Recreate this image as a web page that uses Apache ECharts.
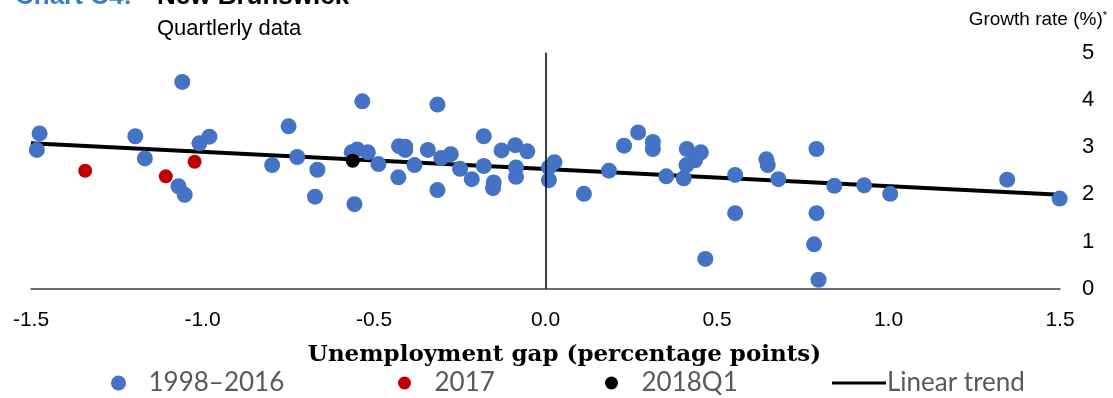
<!DOCTYPE html>
<html><head><meta charset="utf-8">
<script src="https://cdn.jsdelivr.net/npm/echarts@6/dist/echarts.min.js"></script>
<style>html,body{margin:0;padding:0;background:#fff}#c{width:1113px;height:398px}</style>
</head><body><div id="c"></div>
<script>
// Unemployment gap (x) and growth rate (y)
const gap9816 = [-1.475,-1.483,-1.196,-1.168,-1.059,-1.070,-1.052,-1.009,-0.980,-0.797,
  -0.749,-0.724,-0.665,-0.672,-0.534,-0.557,-0.565,-0.549,-0.518,-0.487,
  -0.429,-0.427,-0.409,-0.409,-0.382,-0.343,-0.315,-0.315,-0.304,-0.276,
  -0.249,-0.215,-0.180,-0.180,-0.151,-0.153,-0.128,-0.088,-0.086,-0.086,
  -0.053,0.010,0.010,0.026,0.112,0.185,0.229,0.270,0.313,0.313,
  0.352,0.403,0.412,0.411,0.436,0.453,0.466,0.553,0.553,0.644,
  0.648,0.679,0.790,0.790,0.783,0.796,0.842,0.929,1.005,1.346,1.499];
const growth9816 = [3.29,2.94,3.23,2.76,4.38,2.17,1.99,3.08,3.22,2.62,
  3.44,2.79,2.52,1.95,3.97,1.79,2.89,2.95,2.89,2.64,
  2.36,3.02,3.01,2.94,2.62,2.94,3.90,2.09,2.77,2.85,
  2.54,2.32,3.23,2.60,2.25,2.13,2.93,3.04,2.57,2.37,
  2.91,2.57,2.30,2.68,2.01,2.50,3.03,3.31,3.11,2.96,
  2.38,2.34,2.96,2.62,2.72,2.89,0.63,2.41,1.60,2.74,
  2.62,2.32,2.96,1.60,0.94,0.19,2.18,2.19,2.01,2.31,1.91];
const gap2017 = [-1.342,-1.107,-1.023];
const growth2017 = [2.50,2.38,2.69];
const gap2018Q1 = [-0.562];
const growth2018Q1 = [2.71];
const trendX = [-1.5, 1.5];
const trendY = [3.08, 1.99];
const xTicks = ['-1.5','-1.0','-0.5','0.0','0.5','1.0','1.5'];

const zip = (a,b) => a.map((v,i)=>[v,b[i]]);
const chart = echarts.init(document.getElementById('c'));
const legText = {fontFamily:'Lato', fontSize:26, color:'#595959', lineHeight:26};
const sans = 'Liberation Sans';
chart.setOption({
  animation:false,
  grid:{left:31,right:53,top:52.7,bottom:109.3,containLabel:false},
  xAxis:{type:'value',min:-1.5,max:1.5,interval:0.5,
    axisLine:{onZero:false,lineStyle:{color:'#404040',width:1.5}},
    axisTick:{show:false},splitLine:{show:false},
    axisLabel:{margin:21,fontFamily:sans,fontSize:21,color:'#000',
      formatter:(v)=>xTicks[Math.round((v+1.5)/0.5)]},
    name:'Unemployment gap (percentage points)',nameLocation:'middle',nameGap:55,
    nameTextStyle:{fontFamily:'DejaVu Serif',fontWeight:'bold',fontSize:23,color:'#000',padding:[0,0,0,38]}
  },
  yAxis:{type:'value',min:0,max:5,interval:1,position:'right',
    axisLine:{show:false},axisTick:{show:false},splitLine:{show:false},
    axisLabel:{margin:22,fontFamily:sans,fontSize:22,color:'#000'}
  },
  legend:[
    {data:['1998–2016'],left:106,top:365,itemWidth:50,itemHeight:15,icon:'circle',textStyle:legText},
    {data:['2017'],left:393,top:365,itemWidth:50,itemHeight:13,icon:'circle',textStyle:legText},
    {data:['2018Q1'],left:600,top:365,itemWidth:50,itemHeight:13,icon:'circle',textStyle:legText},
    {data:['Linear trend'],left:827,top:365,itemWidth:54,itemHeight:3,icon:'rect',textStyle:Object.assign({},legText,{padding:[0,0,0,-4]})}
  ],
  graphic:[
    {type:'text',left:15,top:-16,style:{text:'Chart C4:',fontFamily:sans,fontWeight:'bold',fontSize:26,fill:'#3b7dc0'}},
    {type:'text',left:157,top:-16,style:{text:'New Brunswick',fontFamily:sans,fontWeight:'bold',fontSize:26,fill:'#000'}},
    {type:'text',left:157,top:18,style:{text:'Quartlerly data',fontFamily:sans,fontSize:22,fill:'#000'}},
    {type:'text',right:6,top:10,style:{text:'{a|Growth rate (%)}{s|*}',rich:{a:{fontFamily:sans,fontSize:19,fill:'#000'},s:{fontFamily:sans,fontSize:11,fill:'#000',verticalAlign:'top',padding:[0,0,8,0]}}}}
  ],
  series:[
    {name:'Linear trend',type:'line',data:zip(trendX,trendY),symbol:'none',color:'#000',
      lineStyle:{color:'#000',width:4},z:1,
      markLine:{silent:true,symbol:'none',label:{show:false},lineStyle:{color:'#000',width:1.5,type:'solid'},data:[{xAxis:0}]}},
    {name:'1998–2016',type:'scatter',data:zip(gap9816,growth9816),symbolSize:16,itemStyle:{color:'#4472C4',opacity:1},z:3},
    {name:'2017',type:'scatter',data:zip(gap2017,growth2017),symbolSize:14,itemStyle:{color:'#C00000',opacity:1},z:4},
    {name:'2018Q1',type:'scatter',data:zip(gap2018Q1,growth2018Q1),symbolSize:14,itemStyle:{color:'#000',opacity:1},z:5}
  ]
});
</script></body></html>
